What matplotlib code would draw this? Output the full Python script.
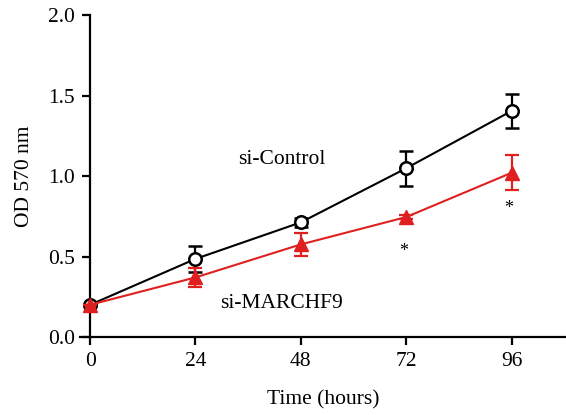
import matplotlib
matplotlib.use("Agg")
import matplotlib.pyplot as plt

plt.rcParams['font.family'] = ['Liberation Serif', 'DejaVu Serif']

hours = [0, 24, 48, 72, 96]
ctrl = [0.20, 0.485, 0.712, 1.048, 1.404]
ctrl_err = [0.0, 0.08, 0.03, 0.11, 0.105]
kd = [0.20, 0.37, 0.575, 0.745, 1.02]
kd_err = [0.0, 0.06, 0.07, 0.01, 0.11]
xticks = [0, 24, 48, 72, 96]
yticks = [0.0, 0.5, 1.0, 1.5, 2.0]

red = '#e02020'

fig = plt.figure(figsize=(5.66, 4.15), dpi=100)
ax = fig.add_axes([80 / 566, 1 - 337 / 415, 486 / 566, 322 / 415])

ax.errorbar(hours, ctrl, yerr=ctrl_err, color='black', lw=1.5, marker='o',
            ms=9, mfc='white', mec='black', mew=1.8, capsize=5, capthick=1.6,
            elinewidth=1.6, zorder=3)
ax.errorbar(hours, kd, yerr=kd_err, color=red, lw=1.5, marker='^',
            ms=10, mfc=red, mec=red, capsize=5, capthick=1.6,
            elinewidth=1.6, zorder=4)

ax.text(43.6, 1.10, 'si-Control', fontsize=15.5, ha='center', va='center')
ax.text(43.6, 0.21, 'si-MARCHF9', fontsize=15.5, ha='center', va='center')
ax.text(71.5, 0.53, '*', fontsize=13, ha='center', va='center')
ax.text(95.4, 0.80, '*', fontsize=13, ha='center', va='center')

ax.set_xlim(-2.3, 108.4)
ax.set_ylim(0, 2.0)
ax.set_xticks(xticks)
ax.set_yticks(yticks)
ax.set_yticklabels(['%.1f' % v for v in yticks])
ax.spines['left'].set_position(('data', 0))
ax.spines['left'].set_bounds(0, 2.0)
for s in ['left', 'bottom']:
    ax.spines[s].set_linewidth(1.6)
ax.spines['top'].set_visible(False)
ax.spines['right'].set_visible(False)
ax.tick_params(direction='out', length=6, width=1.6, labelsize=15.5, pad=5)
ax.set_xlabel('Time (hours)', fontsize=15.5, labelpad=14)
ax.set_ylabel('OD 570 nm', fontsize=15.5)
ax.yaxis.set_label_coords(-0.095, 0.5)

fig.savefig('out.png', dpi=100)
